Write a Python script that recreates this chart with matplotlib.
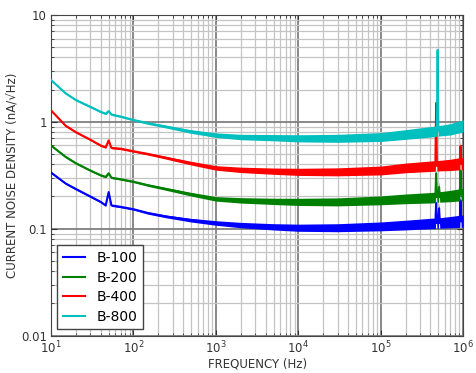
import numpy as np
import matplotlib
matplotlib.use('Agg')
import matplotlib.pyplot as plt
from matplotlib.ticker import FixedLocator, FixedFormatter, LogLocator, NullFormatter

plt.rcParams['font.family'] = ['DejaVu Sans']

# frequency grid (Hz), shared by all curves
freq = [10, 15, 20, 30, 40, 46, 50, 54, 70, 100, 150, 250, 500, 1000, 2000,
        5000, 1e4, 3e4, 1e5, 2e5, 4.3e5, 4.6e5, 4.7e5, 4.8e5, 4.9e5, 5.0e5,
        5.1e5, 5.2e5, 7e5, 9.1e5, 9.27e5, 9.45e5, 1e6]

# current noise density (nA/sqrt(Hz))
b100 = [0.335, 0.265, 0.235, 0.2, 0.178, 0.165, 0.22, 0.165, 0.16, 0.152, 0.14,
        0.13, 0.12, 0.113, 0.108, 0.104, 0.102, 0.102, 0.105, 0.108, 0.112,
        0.112, 0.173, 0.113, 0.113, 0.113, 0.155, 0.113, 0.115, 0.117, 0.184,
        0.117, 0.118]
b200 = [0.6, 0.47, 0.41, 0.35, 0.316, 0.305, 0.33, 0.3, 0.29, 0.275, 0.255,
        0.235, 0.21, 0.19, 0.184, 0.18, 0.178, 0.178, 0.184, 0.19, 0.195,
        0.196, 0.33, 0.197, 0.197, 0.198, 0.245, 0.198, 0.202, 0.207, 0.35,
        0.208, 0.21]
b400 = [1.28, 0.92, 0.8, 0.68, 0.6, 0.577, 0.67, 0.57, 0.56, 0.53, 0.5,
        0.46, 0.41, 0.37, 0.355, 0.345, 0.34, 0.34, 0.35, 0.37, 0.385,
        0.386, 1.5, 0.387, 0.387, 0.388, 0.388, 0.389, 0.395, 0.405, 0.59,
        0.405, 0.41]
b800 = [2.46, 1.85, 1.6, 1.38, 1.24, 1.19, 1.26, 1.17, 1.12, 1.04, 0.97,
        0.9, 0.81, 0.75, 0.72, 0.71, 0.70, 0.70, 0.72, 0.76, 0.81,
        0.815, 0.82, 0.82, 4.7, 0.82, 0.825, 0.825, 0.85, 0.9, 0.9,
        0.9, 0.92]
# noise band half-width (ratio)
spread = [1.02, 1.02, 1.02, 1.02, 1.02, 1.02, 1.02, 1.02, 1.02, 1.02, 1.025,
          1.03, 1.04, 1.05, 1.06, 1.07, 1.08, 1.09, 1.1, 1.11, 1.12,
          1.12, 1.12, 1.12, 1.12, 1.12, 1.12, 1.12, 1.13, 1.14, 1.14,
          1.14, 1.14]

labels = ['B-100', 'B-200', 'B-400', 'B-800']
colors = ['#0000ff', '#008000', '#ff0000', '#00bfbf']

fig = plt.figure(figsize=(4.77, 3.73), dpi=100)
ax = fig.add_axes([0.107, 0.1005, 0.864, 0.8595])

f = np.array(freq)
sp = np.array(spread)
for ys, lab, col in zip([b100, b200, b400, b800], labels, colors):
    y = np.array(ys)
    ax.fill_between(f, y / sp, y * sp, color=col, linewidth=0, zorder=3)
    ax.plot(f, y, color=col, linewidth=1.5, label=lab, zorder=3)

ax.set_xscale('log')
ax.set_yscale('log')
ax.set_xlim(10, 1e6)
ax.set_ylim(0.01, 10)

ax.yaxis.set_major_locator(FixedLocator([0.01, 0.1, 1, 10]))
ax.yaxis.set_major_formatter(FixedFormatter(['0.01', '0.1', '1', '10']))
ax.yaxis.set_minor_locator(LogLocator(base=10, subs=np.arange(2, 10)))
ax.yaxis.set_minor_formatter(NullFormatter())
ax.xaxis.set_minor_locator(LogLocator(base=10, subs=np.arange(2, 10)))
ax.xaxis.set_minor_formatter(NullFormatter())

ax.grid(True, which='major', color='#7f7f7f', linewidth=1.3, zorder=1)
ax.grid(True, which='minor', color='#c4c4c4', linewidth=0.9, zorder=1)
ax.set_axisbelow(True)

ax.tick_params(which='both', direction='in', top=True, right=True,
               labelsize=8.5, colors='#333333')
ax.tick_params(which='major', length=4, pad=3)
ax.tick_params(which='minor', length=2)
for s in ax.spines.values():
    s.set_color('#444444')

ax.set_xlabel('FREQUENCY (Hz)', fontsize=8.5, color='#333333', labelpad=1)
ax.set_ylabel('CURRENT NOISE DENSITY (nA/√Hz)', fontsize=8.5, color='#333333', labelpad=2)

leg = ax.legend(loc='lower left', fontsize=10, fancybox=False, framealpha=1,
                edgecolor='#444444', handlelength=1.6, borderaxespad=0.45,
                labelspacing=0.4)
leg.get_frame().set_linewidth(1.0)
leg.set_zorder(5)

fig.savefig('out.png', dpi=100)
plt.close(fig)
